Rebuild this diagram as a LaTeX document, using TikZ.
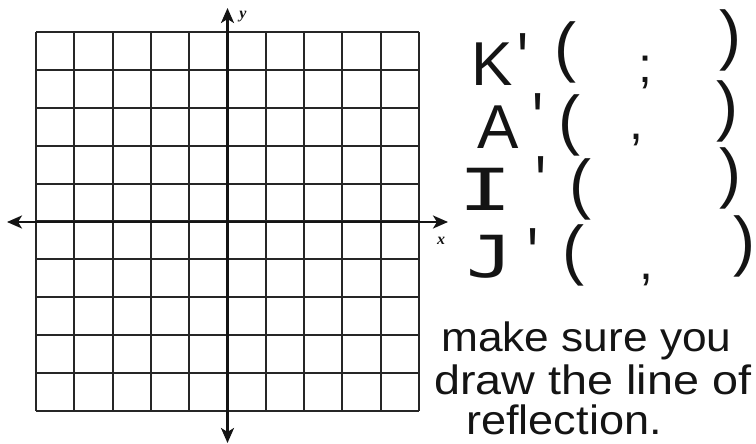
\documentclass[tikz,border=0pt]{standalone}
\usepackage{fontspec}
\usepackage{graphicx}
\usetikzlibrary{arrows.meta}
\newfontfamily\hand{Liberation Sans}
\newfontfamily\handmono{DejaVu Sans Mono}
\newfontfamily\lab{Liberation Serif}
\definecolor{ink}{HTML}{141414}
\definecolor{gridc}{HTML}{262626}
\tikzset{
  gridline/.style={draw=gridc, line width=2.1pt},
  axisline/.style={draw=ink, line width=2.6pt, {Stealth[length=15pt,width=13pt,inset=4pt]}-{Stealth[length=15pt,width=13pt,inset=4pt]}},
  axlabel/.style={inner sep=0pt, text=ink, font=\lab\bfseries\itshape\fontsize{16}{16}\selectfont},
  letter/.style={inner sep=0pt, anchor=base west, text=ink, font=\hand\fontsize{62}{62}\selectfont},
  monoletter/.style={inner sep=0pt, anchor=base west, text=ink, font=\handmono\fontsize{58}{58}\selectfont},
  prime/.style={inner sep=0pt, anchor=base, text=ink, font=\hand\fontsize{58}{58}\selectfont},
  paren/.style={inner sep=0pt, anchor=center, text=ink, font=\hand\fontsize{66}{66}\selectfont},
  sep/.style={inner sep=0pt, anchor=center, text=ink, font=\hand\fontsize{50}{50}\selectfont},
  note/.style={inner sep=0pt, anchor=base west, text=ink, font=\hand\fontsize{41}{41}\selectfont},
}
\begin{document}
\begin{tikzpicture}[x=1pt,y=-1pt]
\useasboundingbox (0,0) rectangle (756,444);
% grid
\foreach \i in {0,...,10} {
  \draw[gridline] ({36+38.3*\i},32) -- ({36+38.3*\i},411);
  \draw[gridline] (36,{32+37.9*\i}) -- (419,{32+37.9*\i});
}
% axes
\coordinate (xl) at (7,222);
\coordinate (xr) at (448,222);
\coordinate (yt) at (227.5,8);
\coordinate (yb) at (227.5,443);
\draw[axisline] (xl) -- (xr);
\draw[axisline] (yb) -- (yt);
\node[axlabel] (ylab) at (243,17) {y};
\node[axlabel] (xlab) at (441,241) {x};
% K'
\node[letter] (K) at (471,85) {K};
\node[prime] (Kp) at (523,86) {\smash{\scalebox{1}[1.3]{'}}};
\node[paren] (Kl) at (565,52) {(};
\node[sep] (Kc) at (645,72) {;};
\node[paren] (Kr) at (730,40) {)};
% A'
\node[letter] (A) at (477,148) {A};
\node[prime] (Ap) at (538,146) {\smash{\scalebox{1}[1.3]{'}}};
\node[paren] (Al) at (569,125) {(};
\node[sep] (Ac) at (636,140) {,};
\node[paren] (Ar) at (727,111) {)};
% I'
\node[monoletter] (I) at (458,210) {\scalebox{1.55}[1]{I}};
\node[prime] (Ip) at (541,208) {\smash{\scalebox{1}[1.3]{'}}};
\node[paren] (Il) at (580,189) {(};
\node[paren] (Ir) at (730,178) {)};
% J'
\node[monoletter] (J) at (466,277) {\scalebox{1.35}[1]{J}};
\node[prime] (Jp) at (533,280) {\smash{\scalebox{1}[1.3]{'}}};
\node[paren] (Jl) at (573,255) {(};
\node[sep] (Jc) at (646,280) {,};
\node[paren] (Jr) at (744,246) {)};
% note
\node[note] (n1) at (441,351) {\scalebox{1.08}[1]{make sure you}};
\node[note] (n2) at (434,394) {\scalebox{1.14}[1]{draw the line of}};
\node[note] (n3) at (466,434) {\scalebox{1.1}[1]{reflection.}};
\end{tikzpicture}
\end{document}
